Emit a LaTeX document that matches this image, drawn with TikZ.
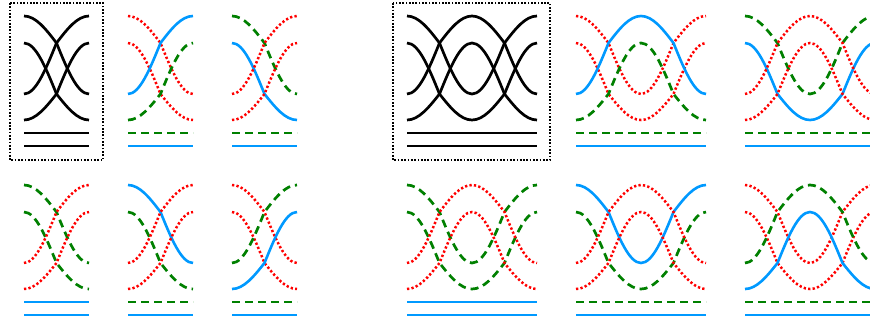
\documentclass[tikz,border=0pt]{standalone}
\usetikzlibrary{calc}
\definecolor{skyblue}{RGB}{0,153,255}
\definecolor{leafgreen}{RGB}{0,128,0}
\tikzset{
  kline/.style={line width=2.7pt,black},
  rline/.style={line width=2.5pt,red,dash pattern=on 2.3pt off 2.2pt},
  gline/.style={line width=2.7pt,leafgreen,dash pattern=on 8pt off 5pt},
  bline/.style={line width=2.6pt,skyblue},
  frame/.style={line width=1.7pt,dash pattern=on 1.7pt off 1.6pt}
}

\begin{document}
\begin{tikzpicture}[x=1pt,y=-1pt]
  \useasboundingbox (0,0) rectangle (870,322);
  % dotted frames
  \draw[frame] (10,3) rectangle (103,160);
  \draw[frame] (393,3) rectangle (550,160);
  % left group: strands move two levels
  \foreach \px/\py/\sa/\sb/\sc/\sd/\la/\lb in {
      24/0/kline/kline/kline/kline/kline/kline,
      128/0/rline/rline/bline/gline/gline/bline,
      232/0/gline/bline/rline/rline/gline/bline,
      24/169/gline/gline/rline/rline/bline/bline,
      128/169/bline/gline/rline/rline/gline/bline,
      232/169/rline/rline/gline/bline/gline/bline} {
    \draw[\sa] (\px,{\py+16}) cos ++(32.5,27) sin ++(32.5,51);
    \draw[\sb] (\px,{\py+43}) cos ++(32.5,51) sin ++(32.5,26);
    \draw[\sc] (\px,{\py+94}) cos ++(32.5,-51) sin ++(32.5,-27);
    \draw[\sd] (\px,{\py+120}) cos ++(32.5,-26) sin ++(32.5,-51);
    \draw[\la] (\px,{\py+133}) -- ++(65,0);
    \draw[\lb] (\px,{\py+146}) -- ++(65,0);
  }
  % right group: there and back
  \foreach \px/\py/\sa/\sb/\sc/\sd/\la/\lb in {
      407/0/kline/kline/kline/kline/kline/kline,
      576/0/rline/rline/bline/gline/gline/bline,
      745/0/gline/bline/rline/rline/gline/bline,
      407/169/gline/gline/rline/rline/bline/bline,
      576/169/bline/gline/rline/rline/gline/bline,
      745/169/rline/rline/gline/bline/gline/bline} {
    \draw[\sa] (\px,{\py+16}) cos ++(32.5,27) sin ++(32.5,51)
      cos ++(32.5,-51) sin ++(32.5,-27);
    \draw[\sb] (\px,{\py+43}) cos ++(32.5,51) sin ++(32.5,26)
      cos ++(32.5,-26) sin ++(32.5,-51);
    \draw[\sc] (\px,{\py+94}) cos ++(32.5,-51) sin ++(32.5,-27)
      cos ++(32.5,27) sin ++(32.5,51);
    \draw[\sd] (\px,{\py+120}) cos ++(32.5,-26) sin ++(32.5,-51)
      cos ++(32.5,51) sin ++(32.5,26);
    \draw[\la] (\px,{\py+133}) -- ++(130,0);
    \draw[\lb] (\px,{\py+146}) -- ++(130,0);
  }
\end{tikzpicture}
\end{document}
